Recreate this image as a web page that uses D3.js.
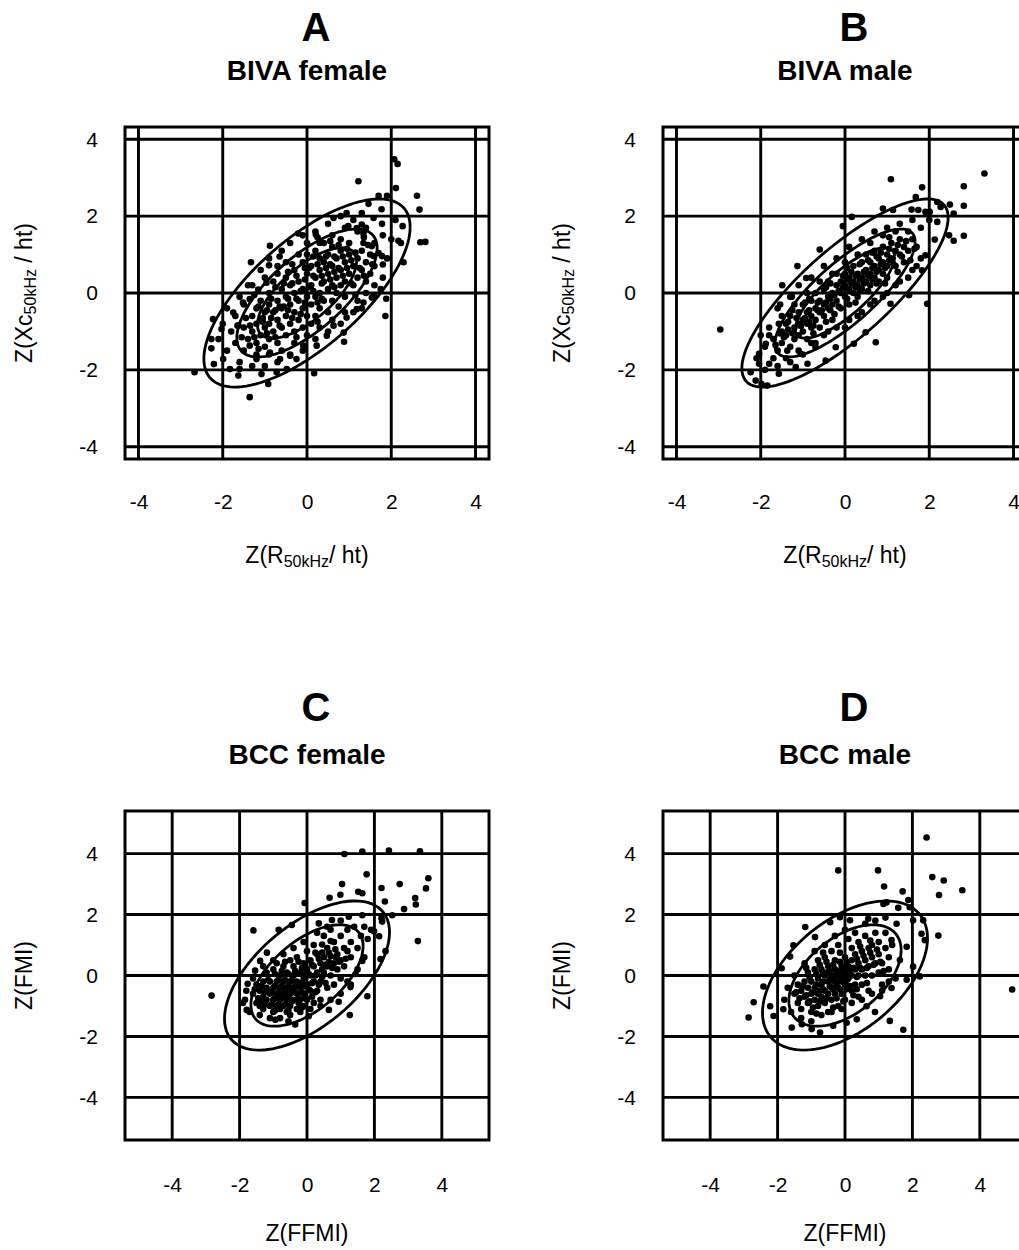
<!DOCTYPE html>
<html><head><meta charset="utf-8">
<script src="https://cdn.jsdelivr.net/npm/d3@7"></script>
<style>
body{margin:0;background:#fff;}
svg{display:block;font-family:"Liberation Sans",Arial,sans-serif;}
</style></head>
<body><svg id="c" width="1019" height="1250"></svg>
<script>
// ---- data ----
const gridTicks = [-4, -2, 0, 2, 4];
const tickLabels = ["-4", "-2", "0", "2", "4"];
const panelLetters = ["A", "B", "C", "D"];
const panelTitles = ["BIVA female", "BIVA male", "BCC female", "BCC male"];
const correlations = [0.70, 0.80, 0.58, 0.50];
const ellipseLevelsBIVA = [1.177, 1.665, 2.448];
const ellipseLevelsBCC = [1.665, 2.448];

const biva_female = [
[2.07,3.48],[2.15,3.36],[1.22,2.91],[2.11,2.73],[2.61,2.53],[2.67,2.17],[1.70,2.53],[1.90,2.53],[1.77,2.18],
[2.69,1.32],[2.81,1.33],[2.17,1.36],[2.23,1.30],[2.27,1.74],[2.29,0.80],[1.86,-0.60],[1.88,-0.15],[1.80,0.74],
[1.78,0.96],[1.54,-0.12],[0.88,-1.27],[0.17,-2.09],[-1.36,-2.71],[-2.67,-2.06],[-2.27,-1.20],[-2.23,-0.68],
[-2.03,-0.94],[-2.27,-1.44],[-2.21,-1.85],[-1.99,-1.72],[-1.83,-1.98],[-1.63,-2.15],[-1.60,-1.98],[-0.92,-2.37],
[-1.08,-2.11],[-0.72,-2.06],[-0.48,-1.98],[-0.25,-1.72],[-0.88,1.23],[-1.33,0.80],[-0.90,0.72],[-0.21,1.55],
[0.21,1.52],[0.63,1.95],[0.94,2.08],[1.30,2.08],[1.46,2.32],[1.30,1.78],[1.58,1.95],[1.78,1.80],[1.34,1.55],
[0.98,1.74],[1.18,1.69],[1.34,1.30],[1.54,1.22],[1.58,0.96],[1.70,1.04],[-1.75,-0.51],[-1.63,-0.85],[-1.52,-0.25],
[-1.36,-0.16],[-1.16,0.09],[-0.96,0.27],[-1.36,-1.37],[-1.20,-1.72],[-0.88,-1.55],[-0.64,-1.72],[-0.40,-1.63],
[-0.09,-1.37],[0.23,-1.37],[0.47,-1.11],[0.63,-0.85],[0.94,-0.64],[1.18,-0.42],[1.34,-0.25],[0.87,-1.03],
[-1.5,-0.9],[-1.4,-1.2],[-1.3,-0.6],[-1.3,-1.0],[-1.2,-0.4],[-1.2,-0.8],[-1.2,-1.3],[-1.1,-0.2],[-1.1,-0.7],
[-1.1,-1.1],[-1.0,-0.5],[-1.0,-0.9],[-1.0,-1.4],[-0.9,0.0],[-0.9,-0.3],[-0.9,-0.8],[-0.9,-1.2],[-0.8,-0.5],
[-0.8,-1.0],[-0.8,0.3],[-0.7,-0.2],[-0.7,-0.7],[-0.7,-1.3],[-0.7,0.5],[-0.6,0.1],[-0.6,-0.4],[-0.6,-0.9],
[-0.5,-0.1],[-0.5,-0.6],[-0.5,0.4],[-0.5,-1.1],[-0.4,0.2],[-0.4,-0.3],[-0.4,-0.8],[-0.3,0.6],[-0.3,0.0],
[-0.3,-0.5],[-0.3,-1.0],[-0.2,0.3],[-0.2,-0.2],[-0.2,-0.7],[-0.1,0.8],[-0.1,0.1],[-0.1,-0.4],[-0.1,-0.9],
[0.0,0.5],[0.0,-0.1],[0.0,-0.6],[0.0,1.0],[0.1,0.2],[0.1,-0.3],[0.1,0.7],[0.1,-0.8],[0.2,0.4],[0.2,-0.1],
[0.2,1.1],[0.2,-0.6],[0.3,0.0],[0.3,0.6],[0.3,0.9],[0.3,-0.4],[0.4,0.3],[0.4,0.8],[0.4,-0.2],[0.4,1.3],
[0.5,0.5],[0.5,0.1],[0.5,1.0],[0.5,-0.5],[0.6,0.7],[0.6,0.2],[0.6,1.2],[0.6,-0.2],[0.7,0.4],[0.7,0.9],
[0.7,0.0],[0.8,0.6],[0.8,1.1],[0.8,0.2],[0.8,1.4],[0.9,0.8],[0.9,0.3],[0.9,-0.1],[1.0,0.5],[1.0,1.0],
[1.0,1.3],[1.1,0.7],[1.1,0.2],[1.2,0.9],[1.2,0.4],[1.3,0.6],[1.3,1.1],[1.4,0.8],[1.4,0.3],[1.5,1.0],
[1.5,0.5],[1.6,0.7],[1.2,1.6],[0.9,1.7],[0.6,1.5],[0.3,1.3],[0.0,1.3],[-0.2,1.0],[-0.5,0.8],[-0.7,0.7],
[-1.0,0.4],[-1.3,0.2],[-1.5,-0.3],[-1.7,-0.6],[-1.8,-1.0],[-1.7,-1.3],[-1.5,-1.5],[-1.2,-1.6],[-0.9,-1.6],
[-0.6,-1.5],[-0.3,-1.3],[0.0,-1.1],[0.3,-0.9],[0.6,-0.7],[0.9,-0.5],[1.2,-0.2],[1.4,0.0],[1.6,0.2],[1.8,0.4],
[1.9,0.9],[2.0,1.4],[2.1,1.9],[1.8,1.5],[1.6,1.3],[1.4,1.7],[1.1,1.9],[0.8,2.0],[0.5,1.8],[0.2,1.6],
[-0.1,1.5],[-0.4,1.3],[-0.6,1.1],[-0.9,0.9],[-1.1,0.6],[-1.4,0.2],[-1.6,-0.1],[-1.9,-0.4],[-2.0,-0.8],
[-2.1,-1.2],[-1.9,-1.5],[-1.6,-1.8],[-1.3,-1.9],[-1.0,-1.9],[-0.7,-1.8],[-0.4,-1.6],[-0.1,-1.5],[0.2,-1.2],
[0.5,-1.0],[0.8,-0.8],[1.1,-0.5],[1.3,-0.4],[1.6,-0.1],[1.75,0.1],
[-0.65,-0.35],[-0.45,-0.45],[-0.25,-0.15],[-0.05,0.35],[0.15,0.05],[0.35,0.45],[0.55,0.35],[0.75,0.65],
[-0.85,-0.65],[-1.05,-0.75],[-0.35,0.25],[0.05,0.65],[0.25,0.75],[0.45,0.65],[0.65,0.95],[0.85,0.45],
[-1.45,-0.65],[-1.35,-0.85],[-1.25,-1.15],[-1.15,-0.35],[-1.05,-0.65],[-0.95,-1.05],[-0.85,-0.15],[-0.75,-0.45],
[-0.65,-0.85],[-0.55,0.25],[-0.45,-0.15],[-0.35,-0.65],[-0.25,0.45],[-0.15,0.05],[-0.05,-0.25],[0.05,0.15],
[0.15,0.45],[0.25,-0.25],[0.35,0.25],[0.45,0.95],[0.55,0.75],[0.65,0.15],[0.75,1.25],[0.85,0.95],[0.95,0.65],
[1.05,0.25],[1.15,1.05],[1.25,0.65],[1.35,0.45],[1.45,1.25],[-1.55,-1.15],[-1.65,-0.85],[-0.95,-0.45],
[-0.55,-0.35],[-0.15,-0.55],[0.35,-0.15],[0.65,0.55],[1.05,0.85],[0.15,0.95],[-0.35,0.75],[-0.75,0.15],
[-1.25,-0.05],[0.95,1.15],[0.55,1.35],[-0.05,0.65],[-0.45,0.55],[-1.15,-1.45],[-0.75,-1.15],[-0.25,-1.15],
[0.25,-0.75],[0.75,-0.35],[1.15,-0.05],[1.55,0.75],[1.35,1.45],[0.25,1.45],[-0.65,0.95]
];

const biva_male = [
[3.31,3.11],[1.09,2.96],[2.82,2.78],[1.83,2.75],[2.82,2.27],[2.82,1.49],[2.58,1.36],[2.47,1.50],[2.19,1.85],
[2.13,1.39],[2.49,2.30],[2.58,2.07],[1.68,2.50],[1.58,2.17],[1.74,2.16],[1.91,2.11],[2.01,2.11],[2.19,2.37],
[2.27,2.24],[0.90,2.20],[1.14,2.16],[0.16,1.98],[-0.05,1.74],[1.95,-0.28],[1.83,0.59],[1.91,0.98],[1.52,-0.06],
[1.08,-0.28],[0.73,-1.28],[-2.96,-0.95],[-1.13,0.70],[-1.49,0.20],[-0.60,1.13],[-0.92,0.39],[-1.26,-0.10],
[-1.54,-0.30],[-1.57,-0.80],[-1.80,-1.10],[-1.88,-1.32],[-2.04,-1.58],[-2.04,-1.84],[-2.24,-2.06],[-2.12,-2.28],
[-1.98,-2.37],[-1.84,-2.41],[-1.80,-1.84],[-1.57,-2.10],[-1.17,-1.93],[-0.89,-1.84],[-0.46,-1.76],[-0.22,-1.41],
[0.21,-1.32],[0.49,-1.02],[-1.37,-1.50],[-1.05,-1.58],[-0.70,-1.41],
[-1.7,-1.2],[-1.6,-1.5],[-1.5,-1.0],[-1.5,-1.3],[-1.4,-0.8],[-1.4,-1.1],[-1.3,-1.4],[-1.3,-0.6],[-1.2,-0.9],
[-1.2,-1.2],[-1.1,-0.5],[-1.1,-0.8],[-1.1,-1.1],[-1.0,-0.3],[-1.0,-0.7],[-1.0,-1.0],[-0.9,-0.5],[-0.9,-0.8],
[-0.9,-1.2],[-0.8,-0.2],[-0.8,-0.6],[-0.8,-0.9],[-0.7,-0.4],[-0.7,-0.7],[-0.7,0.0],[-0.6,-0.2],[-0.6,-0.5],
[-0.6,-0.9],[-0.5,0.1],[-0.5,-0.3],[-0.5,-0.6],[-0.4,-0.1],[-0.4,-0.4],[-0.4,0.3],[-0.3,0.0],[-0.3,-0.3],
[-0.3,-0.7],[-0.2,0.2],[-0.2,-0.2],[-0.2,0.5],[-0.1,0.0],[-0.1,0.3],[-0.1,-0.4],[0.0,0.2],[0.0,-0.1],[0.0,0.5],
[0.1,0.1],[0.1,0.4],[0.1,-0.3],[0.2,0.3],[0.2,0.0],[0.2,0.7],[0.3,0.2],[0.3,0.5],[0.3,-0.1],[0.4,0.4],
[0.4,0.8],[0.4,0.1],[0.5,0.3],[0.5,0.6],[0.5,1.0],[0.6,0.5],[0.6,0.2],[0.6,0.8],[0.7,0.7],[0.7,0.4],
[0.7,1.1],[0.8,0.6],[0.8,0.9],[0.8,0.3],[0.9,0.8],[0.9,1.2],[0.9,0.5],[1.0,0.7],[1.0,1.0],[1.0,0.4],
[1.1,0.9],[1.1,1.3],[1.2,1.1],[1.2,0.7],[1.3,1.0],[1.3,1.4],[1.4,1.2],[1.4,0.8],[1.5,1.1],[1.6,1.4],
[1.7,1.2],[1.5,1.6],[1.2,1.6],[0.9,1.5],[0.6,1.3],[0.3,1.0],[0.0,0.8],[-0.3,0.5],[-0.6,0.3],[-0.9,0.0],
[-1.2,-0.3],[-1.5,-0.6],[-1.8,-0.9],[-1.9,-1.4],[-1.7,-1.7],[-1.4,-1.7],[-1.1,-1.5],[-0.8,-1.3],[-0.5,-1.1],
[-0.2,-0.9],[0.1,-0.7],[0.4,-0.5],[0.7,-0.2],[1.0,0.0],[1.3,0.3],[1.6,0.6],[1.8,0.9],[1.8,1.7],[2.0,1.9],
[1.6,1.9],[1.3,1.8],[1.0,1.7],[0.7,1.6],[0.4,1.4],[0.1,1.2],[-0.2,0.9],[-0.5,0.7],[-0.8,0.4],[-1.1,0.2],
[-1.3,-0.1],[-1.6,-0.4],[-2.0,-1.1],[-2.1,-1.7],[-1.9,-2.0],[-1.6,-1.9],[-1.3,-1.8],[-1.0,-1.6],[-0.7,-1.3],
[-0.4,-1.0],[0.0,-0.9],[0.3,-0.6],[0.6,-0.3],[0.9,-0.1],[1.2,0.2],[1.5,0.4],[1.7,0.7],
[-0.65,-0.45],[-0.35,-0.15],[-0.15,0.05],[0.05,0.35],[0.25,0.15],[0.45,0.55],[0.65,0.65],[0.85,0.75],
[-0.85,-0.75],[-1.05,-0.85],[-0.45,-0.25],[0.15,0.25],[0.35,0.35],[0.55,0.45],[0.75,0.95],[1.05,0.85],
[-1.45,-1.15],[-1.35,-0.95],[-1.25,-1.05],[-1.15,-0.65],[-1.05,-0.85],[-0.95,-0.65],[-0.85,-0.45],[-0.75,-0.85],
[-0.65,-0.25],[-0.55,-0.45],[-0.45,-0.75],[-0.35,-0.45],[-0.25,-0.05],[-0.15,-0.35],[-0.05,0.15],[0.05,-0.15],
[0.15,0.55],[0.25,0.45],[0.35,0.05],[0.45,0.25],[0.55,0.85],[0.65,0.35],[0.75,0.55],[0.85,1.05],[0.95,0.65],
[1.05,1.15],[1.15,0.75],[1.25,1.25],[1.35,0.95],[1.45,1.35],[-1.65,-1.35],[-1.55,-1.05],[-0.95,-0.25],
[-0.45,0.15],[0.05,0.65],[0.55,0.05],[0.95,0.25],[-1.25,-0.45],[-0.75,-1.05],[-0.25,-0.55],[0.25,-0.25],
[0.75,0.25],[1.25,0.55],[-0.05,0.45],[0.35,0.75],[0.65,1.05],[1.05,1.45],[-0.35,0.25],[-0.85,-0.15],
[-1.35,-0.75],[1.55,0.85],[1.65,1.15]
];

const bcc_female = [
[1.11,3.99],[1.64,4.07],[2.43,4.10],[3.35,4.08],[1.77,3.32],[1.04,3.00],[1.52,2.75],[1.64,2.70],[2.21,2.87],
[2.75,3.00],[3.60,3.19],[3.53,2.86],[3.21,2.54],[3.23,2.33],[2.31,2.43],[2.88,2.18],[2.53,1.98],[3.29,1.13],
[0.99,2.65],[0.67,2.55],[-0.07,2.38],[-1.59,1.48],[-2.83,-0.66],[1.79,-0.68],[1.27,-1.30],[-0.35,-1.61],
[2.23,1.77],[2.21,1.88],[1.99,1.45],[2.14,1.29],[2.33,0.80],[2.18,0.54],[1.64,1.98],[1.24,1.93],[0.74,1.82],
[0.35,1.71],[-1.19,0.75],[-1.39,0.48],[-1.54,0.16],[-1.76,-0.27],[-1.84,-0.80],[-1.79,-1.13],[-0.84,1.50],
[-0.45,1.66],[-0.94,-1.45],[-0.55,-1.50],[0.05,-1.34],[0.65,-1.13],[0.94,-0.86],[1.29,-0.38],[1.44,0.05],
[1.64,0.48],[0.45,1.02],[0.70,1.13],[0.84,0.86],[0.70,0.64],[0.45,0.75],
[-1.6,-0.6],[-1.5,-0.9],[-1.5,-0.3],[-1.4,-0.5],[-1.4,-1.0],[-1.3,-0.2],[-1.3,-0.7],[-1.3,-1.1],[-1.2,-0.4],
[-1.2,-0.8],[-1.2,0.1],[-1.1,-0.6],[-1.1,-1.0],[-1.1,-0.2],[-1.0,-0.4],[-1.0,-0.8],[-1.0,0.2],[-1.0,-1.2],
[-0.9,-0.6],[-0.9,-0.2],[-0.9,-1.0],[-0.9,0.4],[-0.8,-0.4],[-0.8,-0.8],[-0.8,0.0],[-0.8,-1.1],[-0.7,-0.6],
[-0.7,-0.2],[-0.7,-1.0],[-0.7,0.3],[-0.6,-0.4],[-0.6,-0.8],[-0.6,0.1],[-0.6,-1.2],[-0.5,-0.6],[-0.5,-0.2],
[-0.5,-1.0],[-0.5,0.5],[-0.4,-0.4],[-0.4,-0.8],[-0.4,0.0],[-0.4,0.3],[-0.3,-0.6],[-0.3,-0.2],[-0.3,-1.1],
[-0.3,0.6],[-0.2,-0.4],[-0.2,-0.8],[-0.2,0.1],[-0.1,-0.6],[-0.1,-0.1],[-0.1,0.4],[-0.1,-1.0],[0.0,-0.3],
[0.0,0.2],[0.0,-0.8],[0.0,0.8],[0.1,-0.5],[0.1,0.0],[0.1,0.5],[0.2,-0.2],[0.2,-0.9],[0.2,0.3],[0.2,1.0],
[0.3,-0.5],[0.3,0.1],[0.3,0.7],[0.4,-0.2],[0.4,0.4],[0.4,-0.8],[0.5,0.1],[0.5,0.6],[0.5,1.3],[0.6,-0.4],
[0.6,0.3],[0.6,0.9],[0.7,0.0],[0.7,1.5],[0.8,0.4],[0.8,-0.3],[0.8,1.1],[0.9,0.2],[0.9,0.7],[1.0,-0.1],
[1.0,0.5],[1.0,1.3],[1.1,0.9],[1.1,0.3],[1.2,1.5],[1.2,-0.2],[1.3,0.6],[1.3,1.1],[1.4,1.6],[1.5,0.9],
[1.6,1.3],[1.7,1.6],[1.8,1.2],[1.9,1.5],[1.0,1.8],[0.6,1.6],[0.3,1.4],[-0.1,1.1],[-0.4,0.9],[-0.7,0.7],
[-1.0,0.5],[-1.3,0.3],[-1.6,-0.1],[-1.8,-0.5],[-1.9,-0.9],[-1.7,-1.2],[-1.4,-1.3],[-1.1,-1.4],[-0.8,-1.4],
[-0.5,-1.3],[-0.2,-1.2],[0.1,-1.1],[0.4,-1.0],[0.7,-0.8],[1.0,-0.6],[1.3,-0.3],[1.5,0.2],[1.7,0.6],
[-0.65,-0.5],[-0.75,-0.35],[-0.55,-0.75],[-0.85,-0.55],[-0.45,-0.55],[-0.35,-0.35],[-0.95,-0.75],[-1.15,-0.5],
[-0.25,-0.9],[0.05,-0.45],[0.15,-0.7],[-0.65,-0.15],[-0.15,-0.25],[0.35,-0.3],[0.25,0.0],[0.45,0.2],
[0.65,0.45],[0.85,0.6],[1.2,0.8],
[-1.45,-0.75],[-1.35,-0.35],[-1.25,-0.95],[-1.25,-0.55],[-1.15,-0.15],[-1.05,-0.95],[-1.05,-0.55],[-0.95,-0.35],
[-0.95,0.05],[-0.85,-0.95],[-0.85,-0.15],[-0.75,-0.75],[-0.75,0.15],[-0.65,-0.95],[-0.65,-0.65],[-0.55,-0.35],
[-0.55,0.05],[-0.45,-0.85],[-0.45,-0.15],[-0.35,-0.55],[-0.35,0.15],[-0.25,-0.75],[-0.25,-0.35],[-0.15,-0.55],
[-0.15,0.25],[-0.05,-0.35],[-0.05,-0.75],[0.05,0.05],[0.15,-0.25],[0.15,0.35],[0.25,-0.55],[0.35,0.55],
[0.45,-0.05],[0.55,-0.25],[0.55,0.35],[0.75,0.25],[0.95,0.45],[-1.55,-0.45],[-0.95,-1.15],[-0.55,-1.15],
[-0.15,-1.05],[0.25,0.75],[-0.25,0.45],[-0.65,0.45],[0.65,0.75],[1.15,0.55],[-1.35,-0.85],[-0.85,-0.65],
[-0.45,-0.45],[-0.05,0.05]
];

const bcc_male = [
[2.42,4.53],[-0.20,3.45],[0.98,3.45],[1.16,2.92],[1.71,2.76],[2.59,3.23],[2.93,3.12],[2.79,2.64],[3.48,2.80],
[2.77,1.31],[4.96,-0.46],[1.88,2.48],[1.73,-1.78],[1.33,-1.49],[0.89,-1.20],[-2.86,-1.38],[-2.71,-0.88],
[-2.42,-0.36],[-2.22,-1.01],[-2.12,-1.33],[-1.83,-1.11],[-1.58,-1.71],[-1.28,-1.60],[-0.99,-1.76],[-0.74,-1.87],
[-0.35,-1.65],[0.05,-1.55],[0.35,-1.44],[-1.18,1.59],[-0.89,1.26],[-1.53,0.99],[-1.63,0.62],[-1.88,0.24],
[-0.44,1.75],[-0.15,1.91],[0.15,1.81],[0.69,1.86],[1.23,2.40],[1.14,2.35],[1.58,2.22],[1.92,2.24],[2.02,1.81],
[2.32,1.81],[2.27,1.37],[2.37,1.16],[2.02,0.29],[2.22,-0.03],[1.83,-0.14],[1.53,1.70],[1.38,1.16],[1.83,0.94],
[1.63,0.51],[1.38,-0.41],[1.04,-0.68],[0.64,-1.01],
[-1.5,-0.6],[-1.4,-0.9],[-1.4,-0.3],[-1.3,-0.5],[-1.3,-1.1],[-1.2,-0.2],[-1.2,-0.7],[-1.1,-0.4],[-1.1,-0.9],
[-1.1,0.1],[-1.0,-0.6],[-1.0,-0.2],[-1.0,-1.2],[-0.9,-0.4],[-0.9,-0.8],[-0.9,0.2],[-0.8,-0.1],[-0.8,-0.6],
[-0.8,-1.0],[-0.8,0.5],[-0.7,-0.3],[-0.7,-0.7],[-0.7,0.2],[-0.6,0.0],[-0.6,-0.5],[-0.6,-0.9],[-0.6,0.6],
[-0.5,-0.2],[-0.5,-0.6],[-0.5,0.3],[-0.5,-1.2],[-0.4,0.0],[-0.4,-0.4],[-0.4,-0.8],[-0.4,0.8],[-0.3,-0.2],
[-0.3,0.2],[-0.3,-0.6],[-0.3,0.5],[-0.2,0.0],[-0.2,-0.4],[-0.2,-1.0],[-0.2,1.0],[-0.1,0.3],[-0.1,-0.2],
[-0.1,-0.6],[0.0,0.1],[0.0,-0.3],[0.0,0.6],[0.0,-0.8],[0.1,0.3],[0.1,-0.1],[0.1,1.2],[0.2,0.0],[0.2,-0.5],
[0.2,0.5],[0.2,0.9],[0.3,0.2],[0.3,-0.3],[0.3,0.7],[0.4,0.0],[0.4,0.4],[0.4,1.1],[0.4,-0.7],[0.5,0.2],
[0.5,0.8],[0.5,-0.3],[0.6,0.5],[0.6,1.3],[0.6,0.0],[0.7,0.3],[0.7,0.9],[0.7,-0.5],[0.8,0.6],[0.8,1.0],
[0.8,0.0],[0.9,0.4],[0.9,1.4],[1.0,0.7],[1.0,0.1],[1.0,1.1],[1.1,0.4],[1.1,-0.3],[1.2,0.9],[1.2,1.4],
[1.3,0.2],[1.3,0.6],[1.4,1.0],[1.5,-0.1],[-0.6,1.0],[-0.9,0.8],[-1.2,0.4],[-1.5,0.0],[-1.7,-0.4],[-1.8,-0.8],
[-1.6,-1.2],[-1.3,-1.4],[-1.0,-1.5],[-0.7,-1.3],[-0.4,-1.2],[-0.1,-1.1],[0.2,-0.9],[0.5,-0.8],[0.8,-0.6],
[1.1,-0.5],[1.3,-0.2],[-0.3,1.3],[0.0,1.5],[0.3,1.4],[0.6,1.7],[0.9,1.8],[1.2,1.9],
[-0.35,-0.1],[-0.15,0.15],[-0.45,-0.35],[-0.25,-0.3],[-0.05,-0.05],[-0.55,0.1],[-0.65,-0.2],[0.15,0.2],
[-0.75,-0.5],[-0.85,-0.3],[0.05,-0.45],[-0.15,0.45],
[-1.35,-0.75],[-1.25,-0.35],[-1.15,-0.65],[-1.05,-0.05],[-0.95,-0.55],[-0.95,-1.05],[-0.85,0.05],[-0.75,-0.85],
[-0.75,0.35],[-0.65,-0.45],[-0.55,-0.75],[-0.55,0.45],[-0.45,-0.15],[-0.45,0.15],[-0.35,-0.45],[-0.35,0.35],
[-0.25,-0.75],[-0.25,0.05],[-0.15,-0.15],[-0.15,-0.45],[-0.05,0.25],[-0.05,-0.85],[0.05,-0.15],[0.05,0.45],
[0.15,-0.35],[0.15,0.05],[0.25,0.25],[0.25,-0.65],[0.35,0.55],[0.35,-0.05],[0.45,0.25],[0.55,0.65],
[0.65,0.25],[0.75,0.75],[0.85,0.35],[0.95,0.85],[1.05,0.45],[-1.45,-0.55],[-1.15,0.25],[-0.65,0.75],
[-0.15,0.75],[0.45,0.95],[0.75,1.15],[-0.85,-1.25],[-0.35,-1.05],[0.35,-0.45],[0.65,-0.25],[1.15,0.15],
[-1.05,-0.85],[-0.65,0.05]
];

// ---- layout (not data) ----
const panels = [
  {data: biva_female, left:125, top:127, w:364, h:332, dom:4.32, levels:ellipseLevelsBIVA, kind:"biva"},
  {data: biva_male,   left:663, top:127, w:364, h:332, dom:4.32, levels:ellipseLevelsBIVA, kind:"biva"},
  {data: bcc_female,  left:125, top:811, w:364, h:329, dom:5.4,  levels:ellipseLevelsBCC,  kind:"bcc"},
  {data: bcc_male,    left:663, top:811, w:364, h:329, dom:5.4,  levels:ellipseLevelsBCC,  kind:"bcc"}
];

const svg = d3.select("#c");
const FONT = "Liberation Sans, Arial, sans-serif";

panels.forEach((p, i) => {
  const x = d3.scaleLinear().domain([-p.dom, p.dom]).range([p.left, p.left + p.w]);
  const y = d3.scaleLinear().domain([-p.dom, p.dom]).range([p.top + p.h, p.top]);
  const g = svg.append("g");
  const cx = x(0);
  const isBiva = p.kind === "biva";

  // titles
  g.append("text").attr("x", cx + 9).attr("y", p.top - (isBiva ? 86 : 90))
    .attr("text-anchor", "middle").attr("font-size", 40).attr("font-weight", "bold")
    .text(panelLetters[i]);
  g.append("text").attr("x", cx + 0).attr("y", p.top - 47)
    .attr("text-anchor", "middle").attr("font-size", 28).attr("font-weight", "bold")
    .text(panelTitles[i]);

  // grid lines
  g.selectAll(".vg").data(gridTicks).enter().append("line")
    .attr("x1", d => x(d)).attr("x2", d => x(d)).attr("y1", p.top).attr("y2", p.top + p.h)
    .attr("stroke", "#000").attr("stroke-width", 2.9);
  g.selectAll(".hg").data(gridTicks).enter().append("line")
    .attr("y1", d => y(d)).attr("y2", d => y(d)).attr("x1", p.left).attr("x2", p.left + p.w)
    .attr("stroke", "#000").attr("stroke-width", 2.9);
  // frame
  g.append("rect").attr("x", p.left).attr("y", p.top).attr("width", p.w).attr("height", p.h)
    .attr("fill", "none").attr("stroke", "#000").attr("stroke-width", 3);

  // axes (labels only)
  const xa = g.append("g").attr("transform", `translate(0,${p.top + p.h})`)
    .call(d3.axisBottom(x).tickValues(gridTicks).tickFormat((d, k) => tickLabels[k]).tickSize(0).tickPadding(isBiva ? 35 : 37));
  xa.select(".domain").remove();
  xa.selectAll("text").attr("font-size", 21).attr("font-family", FONT).attr("fill", "#000");
  const ya = g.append("g").attr("transform", `translate(${p.left},0)`)
    .call(d3.axisLeft(y).tickValues(gridTicks).tickFormat((d, k) => tickLabels[k]).tickSize(0).tickPadding(27));
  ya.select(".domain").remove();
  ya.selectAll("text").attr("font-size", 21).attr("font-family", FONT).attr("fill", "#000");

  // ellipses
  const rho = correlations[i];
  const tSteps = d3.range(0, 361, 3).map(a => a * Math.PI / 180);
  const line = d3.line().x(d => x(d[0])).y(d => y(d[1]));
  p.levels.forEach(c => {
    const pts = tSteps.map(t => [c * Math.cos(t), c * (rho * Math.cos(t) + Math.sqrt(1 - rho * rho) * Math.sin(t))]);
    g.append("path").attr("d", line(pts)).attr("fill", "none").attr("stroke", "#000").attr("stroke-width", 2.8);
  });

  // points
  g.selectAll(".pt").data(p.data).enter().append("circle")
    .attr("cx", d => x(d[0])).attr("cy", d => y(d[1])).attr("r", 3.3).attr("fill", "#000");

  // axis titles
  const fs = 23;
  if (isBiva) {
    const xt = g.append("text").attr("x", cx).attr("y", p.top + p.h + 104)
      .attr("text-anchor", "middle").attr("font-size", fs);
    xt.append("tspan").text("Z(R");
    xt.append("tspan").attr("font-size", 16).attr("dy", 4).text("50kHz");
    xt.append("tspan").attr("dy", -4).text("/ ht)");
    const yt = g.append("text").attr("transform", `translate(${p.left - 93},${y(0)}) rotate(-90)`)
      .attr("text-anchor", "middle").attr("font-size", fs);
    yt.append("tspan").text("Z(Xc");
    yt.append("tspan").attr("font-size", 16).attr("dy", 4).text("50kHz");
    yt.append("tspan").attr("dy", -4).text(" / ht)");
  } else {
    g.append("text").attr("x", cx).attr("y", p.top + p.h + 101)
      .attr("text-anchor", "middle").attr("font-size", fs).text("Z(FFMI)");
    g.append("text").attr("transform", `translate(${p.left - 93},${y(0)}) rotate(-90)`)
      .attr("text-anchor", "middle").attr("font-size", fs).text("Z(FMI)");
  }
});
</script>
</body></html>
